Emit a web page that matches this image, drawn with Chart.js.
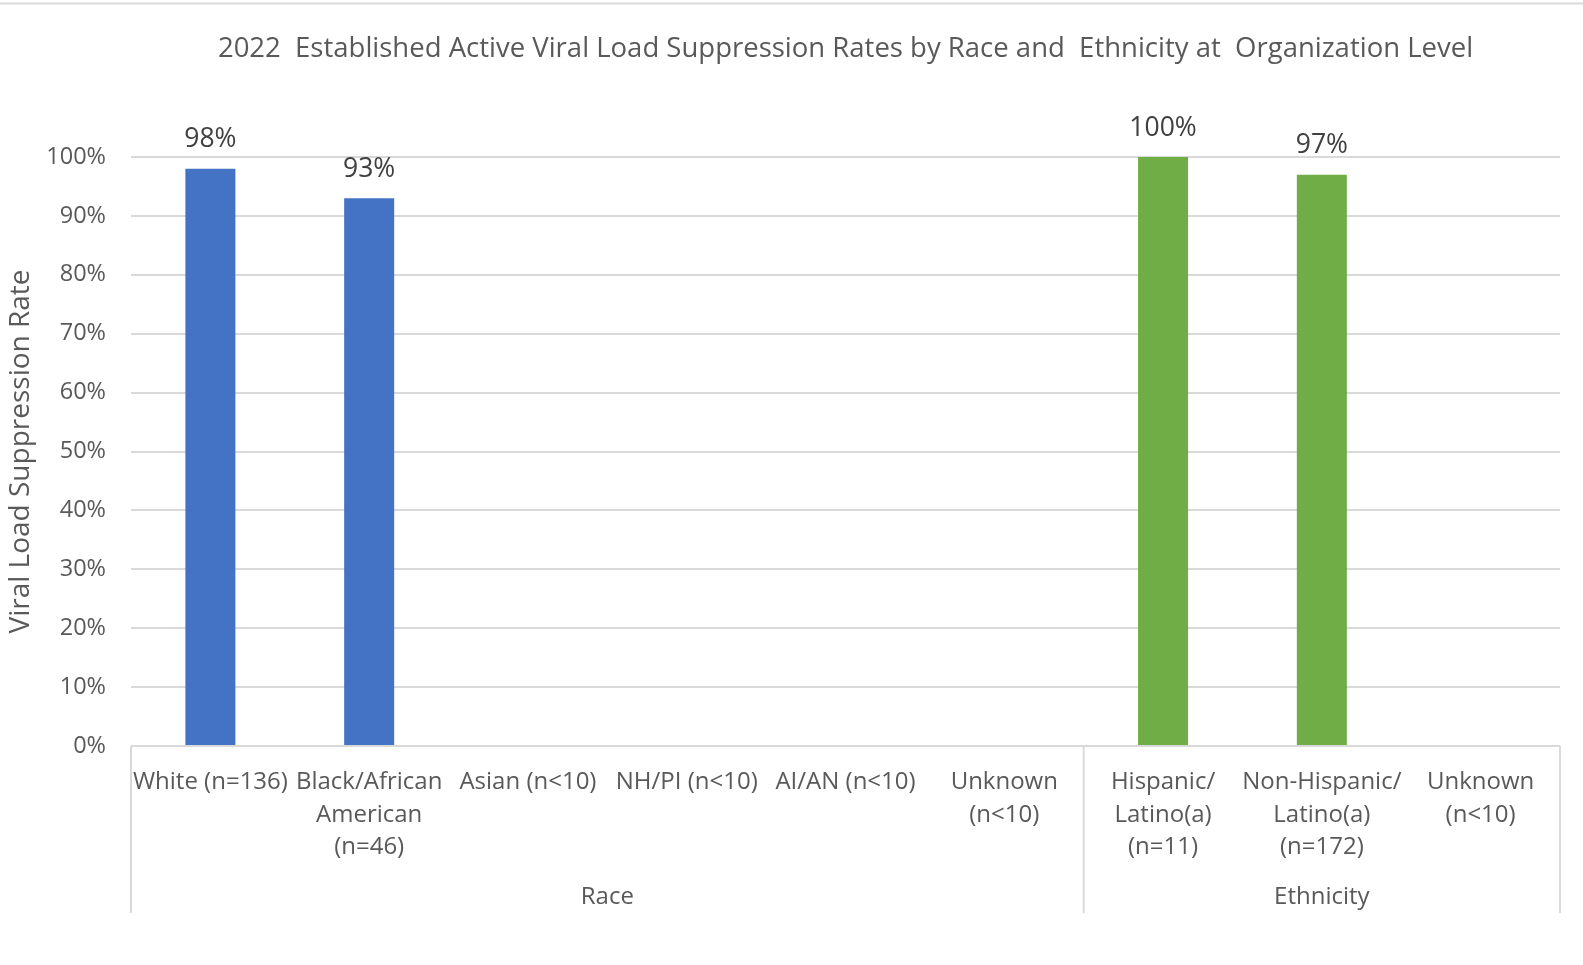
<!DOCTYPE html>
<html lang="en">
<head>
    <meta charset="UTF-8">
    <title>Viral Load Suppression Rates</title>
    <script src="https://cdn.jsdelivr.net/npm/chart.js"></script>
    <style>
        html, body {
            margin: 0;
            padding: 0;
            background-color: #fff;
        }
        .chart-container {
            width: 1583px;
            height: 965px;
        }
    </style>
</head>
<body>

    <div class="chart-container">
        <canvas id="chart1"></canvas>
    </div>

    <script>
        // Data
        const chartTitle = '2022  Established Active Viral Load Suppression Rates by Race and  Ethnicity at  Organization Level';
        const yAxisTitle = 'Viral Load Suppression Rate';
        const categories = [
            ['White (n=136)'],
            ['Black/African', 'American', '(n=46)'],
            ['Asian (n<10)'],
            ['NH/PI (n<10)'],
            ['AI/AN (n<10)'],
            ['Unknown', '(n<10)'],
            ['Hispanic/', 'Latino(a)', '(n=11)'],
            ['Non-Hispanic/', 'Latino(a)', '(n=172)'],
            ['Unknown', '(n<10)']
        ];
        const raceRates = [98, 93, null, null, null, null, null, null, null];
        const ethnicityRates = [null, null, null, null, null, null, 100, 97, null];
        const groupNames = ['Race', 'Ethnicity'];
        const groupSizes = [6, 3];
        const yTicks = [0, 10, 20, 30, 40, 50, 60, 70, 80, 90, 100];

        const textColor = '#595959';
        const lineColor = '#d9d9d9';
        const fontFamily = "'Open Sans', sans-serif";

        // draws value labels, group labels and the group divider lines
        const extrasPlugin = {
            id: 'extras',
            afterDatasetsDraw(chart) {
                const ctx = chart.ctx;
                const x = chart.scales.x;
                const y = chart.scales.y;
                const area = chart.chartArea;

                ctx.save();
                // value labels
                ctx.fillStyle = '#404040';
                ctx.font = "26.5px " + fontFamily;
                ctx.textAlign = 'center';
                ctx.textBaseline = 'middle';
                chart.data.datasets.forEach((ds, di) => {
                    const meta = chart.getDatasetMeta(di);
                    meta.data.forEach((bar, i) => {
                        if (ds.data[i] == null) return;
                        ctx.fillText(ds.data[i] + '%', bar.x, bar.y - 29);
                    });
                });

                // divider lines below the axis
                const half = (x.getPixelForValue(1) - x.getPixelForValue(0)) / 2;
                const lineBottom = 913;
                ctx.strokeStyle = lineColor;
                ctx.lineWidth = 2;
                let start = 0;
                const edges = [area.left];
                groupSizes.forEach(n => {
                    start += n;
                    edges.push(x.getPixelForValue(start - 1) + half);
                });
                edges.forEach(ex => {
                    ctx.beginPath();
                    ctx.moveTo(ex, y.getPixelForValue(0));
                    ctx.lineTo(ex, lineBottom);
                    ctx.stroke();
                });

                // group names
                ctx.fillStyle = textColor;
                ctx.font = "24px " + fontFamily;
                groupNames.forEach((g, gi) => {
                    ctx.fillText(g, (edges[gi] + edges[gi + 1]) / 2, 897);
                });

                // top border of the chart box
                ctx.beginPath();
                ctx.moveTo(0, 3.5);
                ctx.lineTo(chart.width, 3.5);
                ctx.stroke();
                ctx.restore();
            }
        };

        const chart1 = new Chart(document.getElementById('chart1'), {
            type: 'bar',
            data: {
                labels: categories,
                datasets: [
                    { label: 'Race', data: raceRates, backgroundColor: '#4472c4' },
                    { label: 'Ethnicity', data: ethnicityRates, backgroundColor: '#70ad47' }
                ]
            },
            options: {
                responsive: true,
                maintainAspectRatio: false,
                animation: false,
                events: [],
                layout: { padding: { left: 0, right: 23, top: 0, bottom: 52 } },
                datasets: {
                    bar: { grouped: false, categoryPercentage: 1, barPercentage: 0.315 }
                },
                plugins: {
                    legend: { display: false },
                    tooltip: { enabled: false },
                    title: {
                        display: true,
                        text: chartTitle,
                        fullSize: false,
                        color: textColor,
                        font: { family: fontFamily, size: 27.5, weight: 'normal', lineHeight: 1.2 },
                        padding: { top: 33, bottom: 91 }
                    }
                },
                scales: {
                    x: {
                        grid: { display: false },
                        border: { display: false },
                        ticks: {
                            color: textColor,
                            font: { family: fontFamily, size: 24, lineHeight: 1.36 },
                            padding: 12,
                            maxRotation: 0,
                            autoSkip: false
                        },
                        afterFit(scale) { scale.height = 167; }
                    },
                    y: {
                        min: 0,
                        max: 100,
                        afterBuildTicks(scale) { scale.ticks = yTicks.map(v => ({ value: v })); },
                        grid: { color: lineColor, lineWidth: 2, drawTicks: false },
                        border: { display: false },
                        ticks: {
                            color: textColor,
                            font: { family: fontFamily, size: 23.5 },
                            padding: 25,
                            callback: v => v + '%'
                        },
                        title: {
                            display: true,
                            text: yAxisTitle,
                            color: textColor,
                            font: { family: fontFamily, size: 28 },
                            padding: { top: 4, bottom: 0 }
                        },
                        afterFit(scale) { scale.width = 131; }
                    }
                }
            },
            plugins: [extrasPlugin]
        });
    </script>

</body>
</html>
